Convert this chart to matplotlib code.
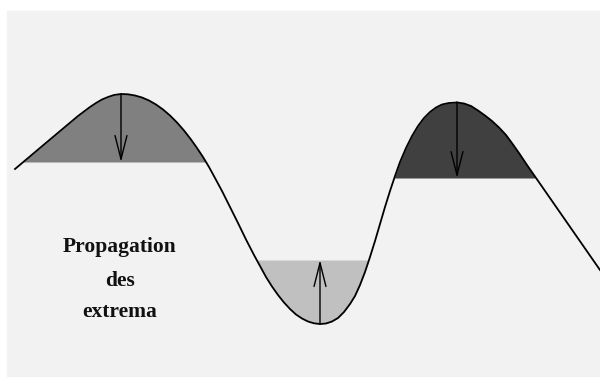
import matplotlib.pyplot as plt
import numpy as np
from matplotlib.patches import Rectangle

# curve points (pixel coords, y pointing down)
curve_x = [15, 50, 78, 84, 90, 96, 102, 108, 114, 121, 128, 135, 142, 149, 156, 163,
           170, 177, 184, 191, 197, 203, 209, 215, 222, 230, 238, 246, 254, 260, 266,
           272, 278, 284, 290, 296, 302, 308, 314, 320, 326, 332, 338, 344, 350, 355,
           360, 365, 370, 375, 380, 385, 390, 395, 400, 406, 412, 418, 424, 430, 436,
           442, 449, 457, 464, 471, 478, 485, 492, 499, 506, 513, 520, 527, 535, 600]
curve_y = [169, 139.5, 116, 111.5, 107, 103, 99.5, 97, 95, 94, 94.3, 95.5, 97.5, 100.5,
           104.5, 109.5, 115.5, 122.5, 130.5, 139.5, 148, 157, 167, 178, 191, 207, 223,
           239.5, 255, 266, 277, 286.5, 295, 302.5, 309, 314.5, 318.5, 321.5, 323.3, 324,
           323.5, 321.5, 318, 312, 304, 296, 285, 272, 257, 241, 224, 207, 191, 176,
           162, 148, 136, 126, 118, 112, 107.5, 104.5, 103, 102.5, 103.5, 106, 110.5,
           115.5, 121, 127.5, 135, 144.5, 154.5, 165, 176.5, 270]

# filled extrema: (level, x-range, colour, side)
levels = [162, 260, 178]
ranges = [(15, 215), (246, 375), (385, 545)]
fills = ['#808080', '#c0c0c0', '#404040']
kinds = ['max', 'min', 'max']

# arrows: x, start y, end y
arrow_x = [121, 320, 457]
arrow_from = [94, 324, 102]
arrow_to = [162, 260, 178]

label_lines = ['Propagation', 'des', 'extrema']
label_y = [247, 281, 312]

fig = plt.figure(figsize=(6, 3.77), dpi=100)
ax = fig.add_axes([0, 0, 1, 1])
ax.set_xlim(0, 600)
ax.set_ylim(377, 0)
ax.axis('off')

ax.add_patch(Rectangle((7, 11), 593, 366, color='#f2f2f2', zorder=0))

cx = np.array(curve_x, float)
cy = np.array(curve_y, float)
for lev, (a, b), col, kind in zip(levels, ranges, fills, kinds):
    m = (cx >= a) & (cx <= b)
    xs, ys = cx[m], cy[m]
    if kind == 'max':
        ax.fill_between(xs, ys, lev, where=ys <= lev, interpolate=True,
                        color=col, lw=0, zorder=1)
    else:
        ax.fill_between(xs, ys, lev, where=ys >= lev, interpolate=True,
                        color=col, lw=0, zorder=1)

ax.plot(cx, cy, color='black', lw=1.3, zorder=3, solid_joinstyle='round')

for x, y0, y1 in zip(arrow_x, arrow_from, arrow_to):
    ax.annotate('', xy=(x, y1), xytext=(x, y0),
                arrowprops=dict(arrowstyle='->,head_length=17,head_width=4.3',
                                mutation_scale=1, color='black', lw=1.0,
                                shrinkA=0, shrinkB=0), zorder=4)

for txt, y in zip(label_lines, label_y):
    ax.text(120, y, txt, ha='center', va='center', fontsize=15.5,
            fontweight='bold', family='Liberation Serif', color='#111111')

fig.savefig('out.png', dpi=100)
